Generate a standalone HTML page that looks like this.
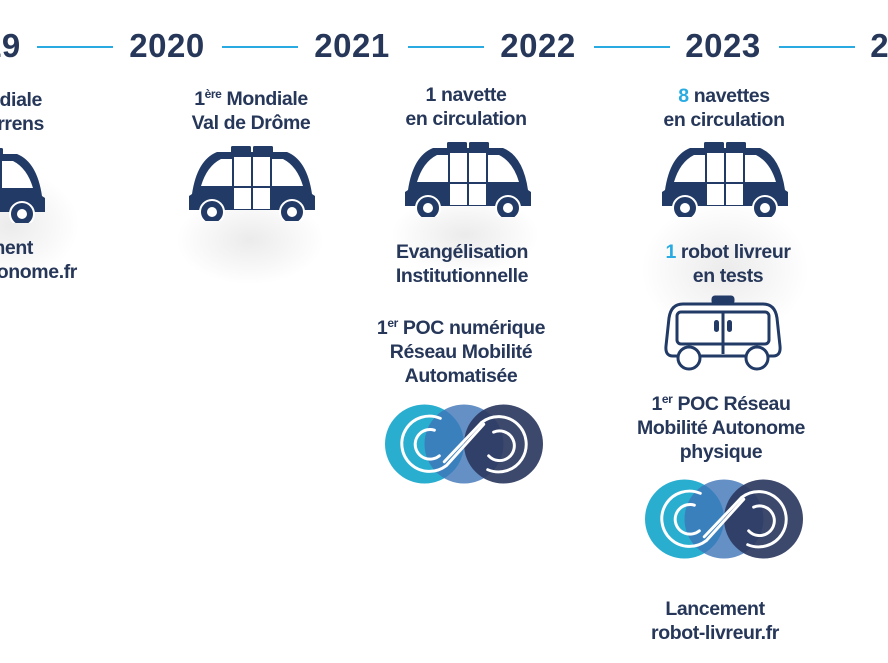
<!DOCTYPE html>
<html><head><meta charset="utf-8"><style>
body{margin:0;width:888px;height:663px;overflow:hidden;background:#fff;position:relative;font-family:"Liberation Sans",sans-serif;color:#263759;font-weight:bold}
.y{position:absolute;top:27px;font-size:33px;line-height:38px;letter-spacing:0.5px;width:120px;text-align:center}
.l{position:absolute;top:46px;height:1.5px;background:#29abe2}
.t{position:absolute;width:320px;text-align:center;font-size:19.5px;line-height:24px;letter-spacing:-0.4px}
.r{position:absolute;text-align:right;font-size:19.5px;line-height:24px;letter-spacing:-0.4px;white-space:nowrap}
.b{color:#29abe2}
sup{font-size:12px;vertical-align:7px;line-height:0}
svg{position:absolute;overflow:visible}
.sh{position:absolute;border-radius:50%;background:radial-gradient(ellipse at center,rgba(0,0,0,0.08),rgba(0,0,0,0) 70%)}
</style></head><body>
<svg width="0" height="0" style="position:absolute">
<defs>
<symbol id="bus" viewBox="0 0 130 75">
<path d="M2,64 L2,50 L5,48 Q10,14 30,6 L100,6 Q120,14 125,48 L128,50 L128,64 Z" fill="#213a66"/>
<rect x="44" y="0" width="20" height="8" rx="1.5" fill="#213a66"/><rect x="66" y="0" width="20" height="8" rx="1.5" fill="#213a66"/>
<path d="M14,40 Q20,20 34,13 L45,13 L45,40 Z" fill="#fff"/>
<path d="M116,40 Q110,20 96,13 L85,13 L85,40 Z" fill="#fff"/>
<rect x="47" y="11" width="17" height="52" fill="#fff"/><rect x="66" y="11" width="17" height="52" fill="#fff"/>
<rect x="45" y="40" width="40" height="2" fill="#213a66"/>
<circle cx="25" cy="66" r="12" fill="#213a66" stroke="#fff" stroke-width="2"/><circle cx="25" cy="66" r="5" fill="#fff"/>
<circle cx="105" cy="66" r="12" fill="#213a66" stroke="#fff" stroke-width="2"/><circle cx="105" cy="66" r="5" fill="#fff"/>
</symbol>
<symbol id="logo" viewBox="0 0 160 84">
<circle cx="40" cy="42" r="40" fill="#2aaed0"/>
<circle cx="80" cy="42" r="40" fill="#3f74b8" opacity="0.8"/>
<circle cx="120" cy="42" r="40" fill="#2c3a60" opacity="0.92"/>
<g fill="none" stroke="#fff" stroke-width="3" stroke-linecap="round">
<path d="M56,16 A28,28 0 1 0 62,64 L100,22"/>
<path d="M104,68 A28,28 0 1 0 98,20 L60,60"/>
<path d="M50,28 A15,15 0 1 0 55,54"/>
<path d="M110,30 A15,15 0 1 1 105,54"/>
</g>
</symbol>
</defs></svg>

<div class="y" style="left:-77px">2019</div>
<div class="y" style="left:107px">2020</div>
<div class="y" style="left:292px">2021</div>
<div class="y" style="left:478px">2022</div>
<div class="y" style="left:663px">2023</div>
<div class="y" style="left:848px">2024</div>
<div class="l" style="left:37px;width:76px"></div>
<div class="l" style="left:222px;width:76px"></div>
<div class="l" style="left:408px;width:76px"></div>
<div class="l" style="left:594px;width:76px"></div>
<div class="l" style="left:779px;width:76px"></div>

<div class="sh" style="left:-60px;top:170px;width:140px;height:110px"></div>
<div class="sh" style="left:175px;top:195px;width:150px;height:90px"></div>
<div class="sh" style="left:390px;top:195px;width:150px;height:80px"></div>
<div class="sh" style="left:640px;top:200px;width:170px;height:140px"></div>

<!-- 2019 -->
<div class="r" style="right:846px;top:88px">1ère Mondiale</div>
<div class="r" style="right:844px;top:112px">Clermont-Ferrens</div>
<svg style="left:-83px;top:148px" width="130" height="75"><use href="#bus"/></svg>
<div class="r" style="right:855px;top:236px">Lancement</div>
<div class="r" style="right:811px;top:260px">www.autonome.fr</div>

<!-- 2020 -->
<div class="t" style="left:91px;top:87px">1<sup>ère</sup> Mondiale<br>Val de Drôme</div>
<svg style="left:187px;top:146px" width="130" height="75"><use href="#bus"/></svg>

<!-- 2022 -->
<div class="t" style="left:306px;top:83px">1 navette<br>en circulation</div>
<svg style="left:403px;top:142px" width="130" height="75"><use href="#bus"/></svg>
<div class="t" style="left:302px;top:240px">Evangélisation<br>Institutionnelle</div>
<div class="t" style="left:301px;top:316px">1<sup>er</sup> POC numérique<br>Réseau Mobilité<br>Automatisée</div>
<svg style="left:385px;top:402px" width="158" height="84"><use href="#logo"/></svg>

<!-- 2023 -->
<div class="t" style="left:564px;top:84px"><span class="b">8</span> navettes<br>en circulation</div>
<svg style="left:660px;top:142px" width="130" height="75"><use href="#bus"/></svg>
<div class="t" style="left:568px;top:240px"><span class="b">1</span> robot livreur<br>en tests</div>
<svg style="left:663px;top:296px" width="120" height="78" viewBox="0 0 120 78">
<g fill="none" stroke="#213a66" stroke-width="3">
<rect x="50" y="1" width="20" height="6" rx="2" fill="#213a66"/>
<path d="M20,8 L100,8 Q112,8 114,22 L117,50 Q118,60 110,60 L10,60 Q2,60 3,50 L6,22 Q8,8 20,8Z" fill="#fff"/>
<rect x="14" y="16" width="92" height="32" rx="4"/>
<line x1="60" y1="16" x2="60" y2="58"/>
<circle cx="26" cy="62" r="11" fill="#fff"/><circle cx="94" cy="62" r="11" fill="#fff"/>
</g>
<rect x="51" y="24" width="5" height="12" rx="2.5" fill="#213a66"/><rect x="64" y="24" width="5" height="12" rx="2.5" fill="#213a66"/>
</svg>
<div class="t" style="left:561px;top:392px">1<sup>er</sup> POC Réseau<br>Mobilité Autonome<br>physique</div>
<svg style="left:645px;top:477px" width="158" height="84"><use href="#logo"/></svg>
<div class="t" style="left:555px;top:597px">Lancement<br>robot-livreur.fr</div>
</body></html>
